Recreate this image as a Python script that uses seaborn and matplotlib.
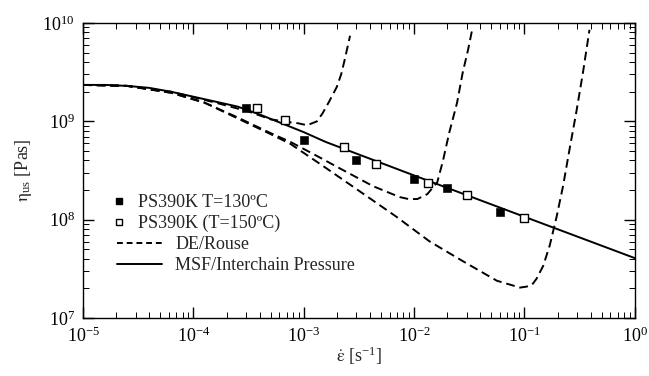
import numpy as np
import pandas as pd
import matplotlib
matplotlib.use('Agg')
import matplotlib.pyplot as plt
import seaborn as sns
from matplotlib.lines import Line2D

# data: log10 of strain rate / viscosity
msf_lograte = [-5.0, -4.8, -4.6, -4.4, -4.2, -4.0, -3.8, -3.6, -3.4, -3.2, -3.0,
               -2.8, -2.4, -2.0, -1.5, -1.0, -0.5, 0.0]
msf_logeta = [9.37, 9.37, 9.36, 9.34, 9.30, 9.25, 9.20, 9.15, 9.07, 8.98, 8.89,
              8.79, 8.62, 8.45, 8.24, 8.03, 7.82, 7.61]

de1_lograte = [-5.0, -4.6, -4.2, -3.8, -3.5, -3.3, -3.12, -3.05, -2.97, -2.88,
               -2.83, -2.77, -2.70, -2.66, -2.63, -2.58]
de1_logeta = [9.37, 9.36, 9.30, 9.19, 9.10, 9.02, 8.99, 8.98, 8.96, 9.00,
              9.08, 9.20, 9.35, 9.48, 9.62, 9.87]

de2_lograte = [-5.0, -4.6, -4.2, -3.9, -3.6, -3.3, -3.12, -2.9, -2.67, -2.37,
               -2.13, -2.05, -1.97, -1.88, -1.79, -1.74, -1.68, -1.61, -1.56,
               -1.51, -1.47]
de2_logeta = [9.37, 9.36, 9.29, 9.19, 9.04, 8.88, 8.79, 8.66, 8.52, 8.34,
              8.23, 8.21, 8.21, 8.26, 8.38, 8.59, 8.89, 9.19, 9.49,
              9.73, 9.95]

de3_lograte = [-5.0, -4.6, -4.2, -3.9, -3.6, -3.3, -3.12, -2.83, -2.52, -2.16,
               -1.86, -1.56, -1.25, -1.10, -1.04, -0.98, -0.93, -0.89, -0.83,
               -0.77, -0.71, -0.65, -0.59, -0.53, -0.47, -0.41]
de3_logeta = [9.37, 9.36, 9.29, 9.19, 9.03, 8.87, 8.77, 8.55, 8.31, 8.03,
              7.78, 7.58, 7.38, 7.33, 7.31, 7.32, 7.34, 7.40, 7.53,
              7.74, 8.02, 8.34, 8.72, 9.09, 9.49, 9.93]

t130_rate = [3e-4, 1e-3, 3e-3, 1e-2, 2e-2, 6e-2]
t130_eta = [1.35e9, 6.4e8, 4.0e8, 2.6e8, 2.1e8, 1.2e8]

t150_rate = [3.8e-4, 6.8e-4, 2.3e-3, 4.5e-3, 1.35e-2, 3e-2, 1e-1]
t150_eta = [1.38e9, 1.02e9, 5.5e8, 3.7e8, 2.35e8, 1.78e8, 1.05e8]

# setup
sns.set_style('ticks')
plt.rcParams['font.family'] = ['Liberation Serif', 'DejaVu Serif']
plt.rcParams['mathtext.fontset'] = 'stix'
fontsize = 13

fig = plt.figure(figsize=(6.49, 3.76), dpi=100)
ax = fig.add_axes([0.128, 0.154, 0.850, 0.785])


def curve(lr, le):
    return pd.DataFrame({'rate': 10.0 ** np.array(lr), 'eta': 10.0 ** np.array(le)})


for lr, le in [(de1_lograte, de1_logeta), (de2_lograte, de2_logeta),
               (de3_lograte, de3_logeta)]:
    sns.lineplot(data=curve(lr, le), x='rate', y='eta', ax=ax, color='black',
                 lw=1.4, linestyle=(0, (4.5, 2.5)), sort=False, estimator=None)
sns.lineplot(data=curve(msf_lograte, msf_logeta), x='rate', y='eta', ax=ax,
             color='black', lw=1.4, sort=False, estimator=None)

sns.scatterplot(x=t130_rate, y=t130_eta, ax=ax, marker='s', s=30,
                color='black', edgecolor='black', zorder=5)
sns.scatterplot(x=t150_rate, y=t150_eta, ax=ax, marker='s', s=30,
                facecolor='white', edgecolor='black', linewidth=1.0, zorder=5)

ax.set_xscale('log')
ax.set_yscale('log')
ax.set_xlim(1e-5, 1e0)
ax.set_ylim(1e7, 1e10)

for s in ax.spines.values():
    s.set_visible(True)
    s.set_linewidth(1.0)
    s.set_color('black')
ax.tick_params(which='both', direction='in', top=True, right=True, colors='black')
ax.tick_params(which='major', length=8, width=1.0, labelsize=fontsize, pad=6)
ax.tick_params(which='minor', length=4, width=0.7)

ax.set_xlabel(r'$\dot{\mathrm{\varepsilon}}$ [s$^{\mathregular{-1}}$]',
              fontsize=fontsize, labelpad=-1)
ax.set_ylabel(r'$\mathrm{\eta}_{\mathregular{us}}$ [Pas]', fontsize=fontsize, labelpad=6)

# legend: markers entries and line entries are aligned differently
mk_handles = [
    Line2D([], [], marker='s', ls='none', color='black', markersize=5),
    Line2D([], [], marker='s', ls='none', markerfacecolor='white',
           markeredgecolor='black', markersize=5),
]
mk_labels = ['PS390K T=130ºC', 'PS390K (T=150ºC)']
ln_handles = [
    Line2D([], [], color='black', lw=1.4, linestyle=(0, (3, 2))),
    Line2D([], [], color='black', lw=1.4),
]
ln_labels = ['DE/Rouse', 'MSF/Interchain Pressure']

leg1 = ax.legend(mk_handles, mk_labels, loc='upper left',
                 bbox_to_anchor=(0.055, 0.42), frameon=False, fontsize=fontsize,
                 handlelength=0.6, handletextpad=0.75, labelspacing=0.2,
                 borderaxespad=0, borderpad=0)
ax.add_artist(leg1)
ax.legend(ln_handles, ln_labels, loc='upper left',
          bbox_to_anchor=(0.062, 0.277), frameon=False, fontsize=fontsize,
          handlelength=2.5, handletextpad=0.7, labelspacing=0.2,
          borderaxespad=0, borderpad=0)

fig.savefig('out.png', dpi=100)
